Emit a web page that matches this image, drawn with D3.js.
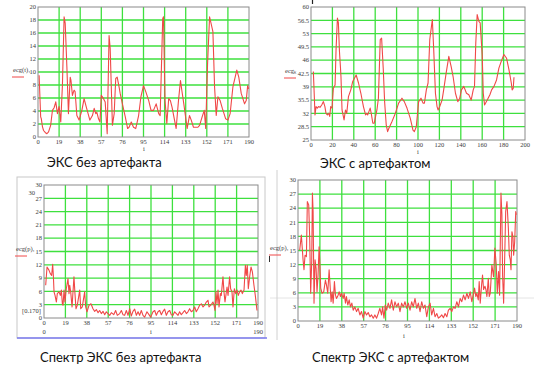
<!DOCTYPE html>
<html>
<head>
<meta charset="utf-8">
<script src="https://cdn.jsdelivr.net/npm/d3@7"></script>
<style>
  body { margin: 0; background: #fff; }
  svg { display: block; }
  .tick-label { font-family: "Liberation Serif", serif; font-size: 6.5px; fill: #3a3a3a; }
  .title { font-family: Lato, "Open Sans", sans-serif; font-size: 13px; fill: #111; }
</style>
</head>
<body>
<svg id="chart" width="534" height="371"></svg>
<script>
// ECG without artifact (index i, value)
const ecgCleanI = [1,2.4,3,4,5,6.5,8,9.5,11.4,13,14.5,16,17.5,19,20.5,22,23.5,24.5,26,27.4,29,29.7,31,32.5,33.4,35,37,39.5,41.5,43.5,46.7,49,50.6,52,53,54.5,55.8,57,59,60.5,62.3,64,65,67,68.6,70,71.3,73,74,76,78.6,80.7,82,84,86,88,90.6,92.7,95,97.2,99.7,101.8,104,106.4,108.7,110,112.3,113,114.4,116,117.7,119.2,120.7,124.4,126.5,128.3,129.5,131.3,134.3,136.4,138,140,144,145.5,147.8,149.7,151,152.7,154.5,157.5,159,160.5,162,164,166,169,171,173,175.5,179,180.8,183,186,187.5,188.8,189.7];
const ecgCleanV = [9.5,3.1,2.8,1.6,1,0.7,0.5,0.8,1.8,4.1,4.5,5.4,3.6,4.7,2.3,8,18.5,17.5,10.8,3.6,9.2,8.7,6.4,7.2,7,3.3,2.6,4.1,5.9,4.6,2.6,3.3,4.4,3.6,3.8,2.8,2.3,6.4,5.9,5.4,0.5,15.6,13.6,1.8,3.6,9,9.2,7.7,6.7,5.1,3.1,1.3,1.5,2.3,1.5,1.3,3.3,6.2,7.9,6.9,5.6,4.1,4.1,5.1,3.6,3.3,18.2,18.5,5.6,2.1,5.9,5.6,4.6,1.3,5.6,8.7,7.2,5.1,1.3,3.3,2.6,1.5,1.5,1.8,3.1,4.1,1.3,11.3,18.5,16.2,7.7,3.3,6.2,5.6,4.4,2.8,2.6,3.6,7.7,10.3,9.2,6.7,5.1,5.6,7.9,7.4];

// ECG with artifact
const ecgArtI = [2.2,3.75,4.7,5.9,7,8.4,10,11.6,13,14,15.3,16.6,17.5,18.4,19.7,20.9,22.5,23.4,24.7,25.6,26.6,27.5,28,29,30.9,32.2,33.4,35,37.2,39,42.2,44.4,46.6,49,51,52.2,53,55.3,56.3,57.8,59,60,61.6,63,64.7,66,67.5,68.8,70.3,71.6,72.8,75.6,78.8,81.9,85,87.2,89.7,92.8,95.3,96.6,98.4,100.6,102.8,104.7,106,107.8,109.4,111,113.4,114.7,116.3,117.8,118.8,120.3,122.5,124,126.3,128.8,131,132.8,135,137.2,139,140.6,142.8,145.3,147.5,149.7,151.6,152.8,154,155.3,156.9,158.1,160,161,162.2,164.7,167.2,168.8,171,173.4,175.6,177.8,180.3,182.8,185,187.2,188,189,189.7];
const ecgArtV = [43,31.6,33.8,33.4,33.8,33.6,34.2,35.1,33.8,32,31.6,32,31.2,33.8,33.4,38.6,39.5,48.7,57.1,55.8,48.3,44.3,41.7,32.9,30.3,32.9,32,36.4,38.2,40.4,42.1,40,37.3,33.8,31.6,32,31.6,33.4,32,29.4,29.4,30.7,32.9,36,51.4,51.8,43.9,35.1,29,27.2,28.1,29.8,32,34.7,36,35.1,33.4,30.7,27.6,27.2,28.5,35.1,36,34.7,34.7,38.2,40,51.4,56.7,48.7,37.3,33.8,32.9,33.8,35.5,38.2,42.6,47,44.3,41.7,37.3,35.1,36,38.2,39.1,37.3,36.9,35.5,38.2,39.1,50.5,58,56.2,55.8,47.4,37.3,34.2,35.5,36.9,38.2,39.1,40.8,43.9,45.7,47.5,46.5,43.5,40,38.2,38.6,41.5];

// spectrum of ECG without artifact
const specCleanI = [1.5,2.7,4.4,5.6,6.8,7.7,8.3,8.9,9.8,11,11.8,13.3,14.5,15.4,16.3,16.9,17.8,18.6,19.8,21.3,22.2,22.8,23.7,24.9,26.6,27.5,28.4,29.6,31.7,32.6,34,36.1,37,38.2,40,41.7,43.5,45,46.5,48,49.4,50.9,52.4,53.9,55.3,56.8,58.3,59.8,61.9,63.6,65.1,67.2,68.7,70.1,71.6,73.1,74.6,76.1,77.5,79,80.5,82,83.5,84.9,86.4,87.9,89.4,91.4,93.2,94.7,96.8,98.3,99.7,101.2,102.7,104.2,105.7,107.1,108.6,110.1,111.6,113,114.5,116,117.5,119,120.4,121.9,123.4,124.9,126.4,127.8,129.3,130.8,132.3,133.8,135.2,136.7,138.2,139.7,141.2,142.6,144.1,145.6,146.5,148,148.9,150,150.9,151.8,152.7,153.6,154.5,155.4,156.6,157.4,158.9,159.8,160.7,162.5,163.4,164.8,165.7,166.9,167.8,169,170.2,171.4,172.5,173.7,174.9,176.1,177.6,178.8,179.6,180.5,181.4,182.6,183.8,185,186.4,187.6,189.1];
const specCleanV = [7.4,11.5,10.8,10,9.6,12.1,9.6,5.9,5.1,3.6,5.5,5.9,5.1,6.3,3.2,2.9,6.3,3.6,6.6,8.9,5.5,7.4,5.9,2.5,9.3,5.5,2.1,2.9,6.3,2.1,2.5,5.9,2.5,1.4,2.9,3.2,2.1,1.5,1.9,1.2,1.7,1,1.5,0.75,1.4,1,0.6,1.2,0.75,1.7,0.6,1,1.7,0.75,0.6,1.7,0.6,2.1,0.45,1.5,2,0.6,1.4,0.6,1.7,0.6,0.2,1.4,0.75,0.2,1.4,1.7,0.6,1.4,1.7,0.75,1.5,2,0.6,1.4,1.7,0.75,0.6,1.4,1,0.6,1.4,0.75,1.2,1.7,1,1.4,2.1,1.4,1.7,2.5,1.4,2.1,2.9,3.2,2.5,2.9,3.6,4,2.5,2.9,3.2,3.6,2.9,1.7,5.9,3.2,6.3,2.5,5.5,5.1,9.3,5.9,3.6,7,5.1,9.3,6.6,5.9,2.5,6.6,5.5,6.3,5.1,5.9,6.3,5.5,6.3,11.9,9.6,11.9,6.6,9.3,11.5,10.4,7.4,5.1,1.7];

// spectrum of ECG with artifact
const specArtI = [1.5,2.9,4.4,5.2,6.1,7.3,8.1,9.3,10.2,11,11.9,12.5,13.1,13.9,14.8,15.7,16.5,17.4,18.3,18.9,19.7,20.9,22.3,23.8,24.7,25.8,27,27.8,28.7,29.6,30.5,31.6,32.5,33.4,34.8,35.7,36.8,37.7,39.2,40,41.2,42,43.2,44.4,45.5,46.7,47.9,49.3,50.8,52.2,53.7,55.1,56.6,58,59.5,60.9,62.4,63.8,65.3,66.7,68.2,69.6,71,72.5,73.4,74.6,75.7,76.9,78.3,79.8,81.2,82.7,84.1,85.6,87,88.5,89.9,91.4,92.8,94.3,95.7,97.2,98.6,100,101.5,103,104.4,105.9,107.3,108.8,110.2,111.7,113.1,114.6,116,117.5,118.9,120.4,121.8,123.3,124.7,126.2,127.6,129.1,130.5,132,133.4,134.9,136.3,137.8,139.2,140.7,142.1,143.6,145,146.5,147.9,149.4,150.8,152.3,153.2,154.3,155.2,156.4,157.2,158.1,159.3,160.1,161,162.2,163,163.9,165.1,165.9,166.8,168.2,169.7,170.8,172,172.9,174,174.9,176.1,176.9,177.5,178.4,179.3,180.2,181.3,182.5,183.3,184.2,184.8,185.6,186.5,187.1,188,188.9,189.4];
const specArtV = [15.1,18.3,13,10.9,14,13.7,25.4,24.7,17.2,5.9,12.6,27.2,23.3,3.8,13,11.2,6.2,9.8,15.8,12.6,7,5.9,6.2,8.7,7.7,5.9,10.9,7.7,4.1,6.2,3.8,8.4,5.5,4.8,5.5,6.2,5.2,5.9,4.8,5.9,3.8,5.2,3.4,4.5,3,3.8,2.3,3,2,2.7,1.3,2,0.6,2,1.3,1.8,0.9,1.3,0.6,1.3,0.6,1.6,2.7,1.3,3,0.6,3.4,2.3,3.8,2.7,4.5,2.3,4.1,3,3.8,2,3.8,3,4.1,2.7,3.8,2.3,4.1,3,4.8,2.7,3.8,2,4.1,2.7,3.4,0.9,3,3.8,1.3,2.7,0.9,1.6,0.6,0.9,1.3,0.7,1.6,0.9,2.3,2.7,2,3,2.7,4.1,3,4.8,4.1,5.5,4.5,5.9,4.8,6.2,4.1,5.9,7,5.2,5.9,4.5,8.4,3.8,7.7,9.8,6.7,7.4,6.7,5.2,9.1,5.2,5.9,11.9,9.4,15.5,11.9,5.9,10.5,5.5,27.2,22.6,9.8,3.8,13.3,23.3,25.4,19.8,14,13,10.9,19,17.9,14,16.9,23.3,22.6];

const ticks190 = [0, 19, 38, 57, 76, 95, 114, 133, 152, 171, 190];
const ticks200 = [0, 20, 40, 60, 80, 100, 120, 140, 160, 180, 200];
const ticks20 = d3.range(0, 21, 2);
const ticks25to60 = [25, 28.5, 32, 35.5, 39, 42.5, 46, 49.5, 53, 56.5, 60];
const ticks30 = d3.range(0, 31, 3);

const titles = ["ЭКС без артефакта", "ЭКС с артефактом", "Спектр ЭКС без артефакта", "Спектр ЭКС с артефактом"];

const svg = d3.select("#chart");

// faint slide line and frames behind everything
svg.append("line").attr("x1", 270).attr("x2", 534).attr("y1", 298).attr("y2", 298)
    .attr("stroke", "#e4e4e4").attr("stroke-width", 1);
svg.append("rect").attr("x", 17).attr("y", 177).attr("width", 248).attr("height", 161)
    .attr("fill", "none").attr("stroke", "#c8c8c8").attr("stroke-width", 1);
svg.append("line").attr("x1", 17).attr("x2", 267).attr("y1", 338).attr("y2", 338)
    .attr("stroke", "#7b7bf0").attr("stroke-width", 1.5);
svg.append("line").attr("x1", 277).attr("x2", 277).attr("y1", 170).attr("y2", 340)
    .attr("stroke", "#d0d0d0").attr("stroke-width", 1);
svg.append("line").attr("x1", 269.5).attr("x2", 269.5).attr("y1", 256).attr("y2", 262)
    .attr("stroke", "#333").attr("stroke-width", 1);
svg.append("line").attr("x1", 312.5).attr("x2", 312.5).attr("y1", 0).attr("y2", 4)
    .attr("stroke", "#222").attr("stroke-width", 1.2);

function panel(p) {
    const x = d3.scaleLinear().domain(p.xDomain).range([p.left, p.right]),
        y = d3.scaleLinear().domain(p.yDomain).range([p.bottom, p.top]),
        g = svg.append("g");

    // grid
    g.selectAll("line.gx").data(p.xTicks.slice(1, -1)).enter().append("line")
        .attr("x1", d => x(d)).attr("x2", d => x(d))
        .attr("y1", p.top).attr("y2", p.bottom)
        .attr("stroke", "#3ee03e").attr("stroke-width", 1.3);
    g.selectAll("line.gy").data(p.yTicks.slice(1, -1)).enter().append("line")
        .attr("x1", p.left).attr("x2", p.right)
        .attr("y1", d => y(d)).attr("y2", d => y(d))
        .attr("stroke", "#3ee03e").attr("stroke-width", 1.3);

    g.append("rect")
        .attr("x", p.left).attr("y", p.top)
        .attr("width", p.right - p.left).attr("height", p.bottom - p.top)
        .attr("fill", "none").attr("stroke", "#8a8a8a").attr("stroke-width", 1);

    const pts = p.xs.map((d, k) => [d, p.ys[k]]);
    g.append("path").datum(pts)
        .attr("d", d3.line().x(d => x(d[0])).y(d => y(d[1])))
        .attr("fill", "none").attr("stroke", "#f04848").attr("stroke-width", 1.1)
        .attr("stroke-linejoin", "round");

    // tick labels
    g.selectAll("text.tx").data(p.xTicks).enter().append("text")
        .attr("class", "tick-label")
        .attr("x", d => x(d)).attr("y", p.bottom + 7)
        .attr("text-anchor", "middle")
        .text(d => d);
    g.selectAll("text.ty").data(p.yTicks).enter().append("text")
        .attr("class", "tick-label")
        .attr("x", p.left - 2).attr("y", d => y(d) + 2.2)
        .attr("text-anchor", "end")
        .text(d => d);

    // variable name with legend swatch
    g.append("text").attr("class", "tick-label")
        .attr("x", p.nameX).attr("y", p.nameY).attr("font-size", 5)
        .text(p.name);
    g.append("line")
        .attr("x1", p.nameX - 1).attr("x2", p.nameX + 11)
        .attr("y1", p.nameY + 5).attr("y2", p.nameY + 5)
        .attr("stroke", "#f04848").attr("stroke-width", 1);

    g.append("text").attr("class", "tick-label")
        .attr("x", p.iX).attr("y", p.iY).attr("text-anchor", "middle").text("i");

    svg.append("text").attr("class", "title")
        .attr("x", p.titleX).attr("y", p.titleY).text(p.title);
    return { x, y, g };
}

panel({ xs: ecgCleanI, ys: ecgCleanV, xDomain: [0, 190], yDomain: [0, 20],
    xTicks: ticks190, yTicks: ticks20, left: 38, right: 249, top: 7, bottom: 137,
    name: "ecg(t)\u2081", nameX: 13, nameY: 72, iX: 144, iY: 151,
    title: titles[0], titleX: 47, titleY: 167 });

panel({ xs: ecgArtI, ys: ecgArtV, xDomain: [0, 200], yDomain: [25, 60],
    xTicks: ticks200, yTicks: ticks25to60, left: 311, right: 525, top: 7, bottom: 140,
    name: "ecg\u2096", nameX: 285, nameY: 73, iX: 418, iY: 154,
    title: titles[1], titleX: 320, titleY: 168 });

const p3 = panel({ xs: specCleanI, ys: specCleanV, xDomain: [0, 190], yDomain: [0, 30],
    xTicks: ticks190, yTicks: ticks30, left: 44, right: 258, top: 185, bottom: 318,
    name: "ecg(p)\u2081", nameX: 16, nameY: 251, iX: 151, iY: 334,
    title: titles[2], titleX: 40, titleY: 362 });
p3.g.append("text").attr("class", "tick-label").attr("x", 35).attr("y", 195).attr("text-anchor", "end").text("30");
p3.g.append("text").attr("class", "tick-label").attr("x", 22).attr("y", 313).text("[0.170]");
p3.g.append("text").attr("class", "tick-label").attr("x", 44).attr("y", 334).attr("text-anchor", "middle").text("0");
p3.g.append("text").attr("class", "tick-label").attr("x", 258).attr("y", 334).attr("text-anchor", "middle").text("190");

panel({ xs: specArtI, ys: specArtV, xDomain: [0, 190], yDomain: [0, 30],
    xTicks: ticks190, yTicks: ticks30, left: 298, right: 517, top: 180, bottom: 321,
    name: "ecg(p)\u2081", nameX: 270, nameY: 250, iX: 404, iY: 338,
    title: titles[3], titleX: 312, titleY: 362 });
</script>
</body>
</html>
